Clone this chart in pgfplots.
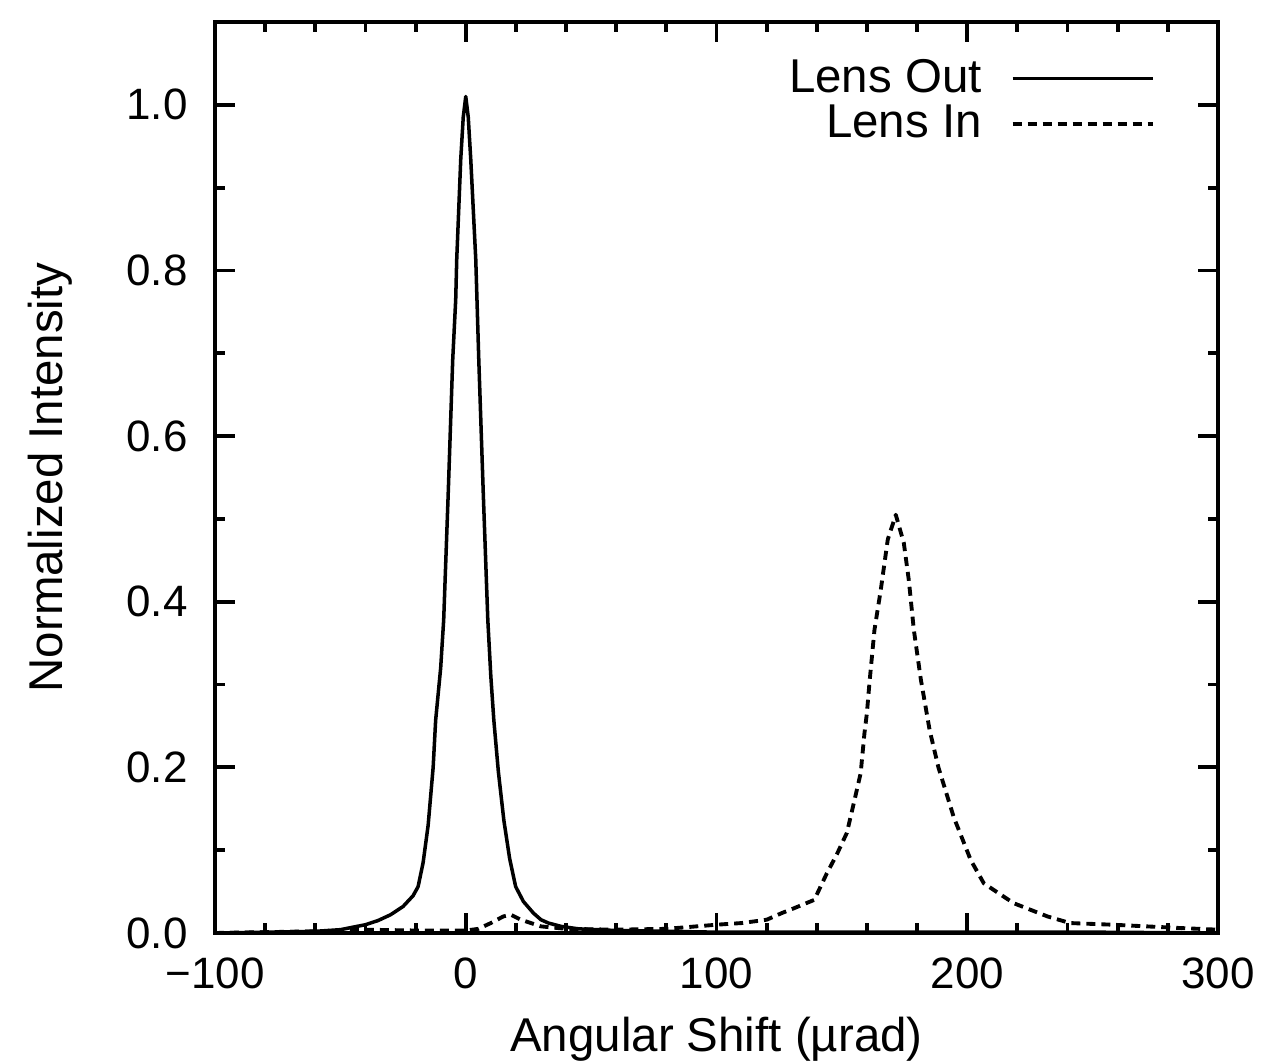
\documentclass[border=0pt]{standalone}
\usepackage{fontspec}
\setmainfont{Liberation Sans}
\usepackage{pgfplots}
\pgfplotsset{compat=1.18}

% Lens Out (solid)
\pgfplotstableread{
x y
-100 0.000
-80 0.001
-60 0.002
-50 0.004
-45 0.007
-40 0.010
-35 0.015
-30 0.022
-25 0.032
-21 0.045
-19 0.056
-17 0.085
-15 0.130
-13 0.200
-12 0.257
-10 0.320
-8.8 0.378
-7 0.530
-5.2 0.692
-4 0.765
-3.6 0.813
-2 0.934
-1 0.985
0 1.010
1 0.985
2 0.934
4 0.813
5.2 0.692
7 0.530
8.8 0.378
10 0.310
11.2 0.257
13 0.195
15.2 0.136
17.5 0.090
19.9 0.056
23 0.038
27 0.024
30 0.016
33 0.012
38 0.008
45 0.005
60 0.003
80 0.002
100 0.001
150 0.001
200 0.001
250 0.001
300 0.000
}\lensout

% Lens In (dashed)
\pgfplotstableread{
x y
-100 0.000
-80 0.001
-60 0.002
-40 0.004
-20 0.003
0 0.003
5 0.005
10 0.012
15 0.020
18 0.022
22 0.016
26 0.012
30 0.008
40 0.005
60 0.004
80 0.005
100 0.010
110 0.012
120 0.016
126 0.024
131 0.030
139 0.040
144 0.072
148 0.095
152 0.121
155 0.160
157.5 0.193
159 0.241
160 0.266
161 0.302
163 0.366
165.5 0.414
168.3 0.475
171.5 0.505
174.7 0.471
176.7 0.426
178.7 0.366
181.5 0.306
185 0.245
188.5 0.200
194.6 0.140
201.4 0.088
206.6 0.060
218.5 0.036
232 0.020
241 0.012
258 0.010
285 0.006
300 0.004
}\lensin

\begin{document}
\begin{tikzpicture}
\path[use as bounding box] (-2.15,-1.30) rectangle (10.47,9.33);
\begin{axis}[
  at={(0,0)}, anchor=south west,
  scale only axis,
  width=10.03cm, height=9.11cm,
  xmin=-100, xmax=300,
  ymin=0, ymax=1.1,
  xtick={-100,0,100,200,300},
  xticklabels={−100,0,100,200,300},
  ytick={0,0.2,0.4,0.6,0.8,1.0},
  yticklabels={0.0,0.2,0.4,0.6,0.8,1.0},
  minor x tick num=4,
  minor y tick num=1,
  tick align=inside,
  major tick length=0.2cm,
  minor tick length=0.1cm,
  axis line style={line width=1.2pt},
  every tick/.style={line width=1.1pt, black},
  tick label style={font=\fontsize{12.5}{15}\selectfont},
  xticklabel style={yshift=-0.12cm},
  yticklabel style={xshift=-0.15cm},
  label style={font=\fontsize{13.5}{16}\selectfont},
  xlabel={Angular Shift (µrad)},
  ylabel={Normalized Intensity},
  xlabel style={at={(axis description cs:0.5,-0.117)}, anchor=center},
  ylabel style={at={(axis description cs:-0.1645,0.5)}, anchor=center},
  legend style={draw=none, fill=none, at={(0.948,0.975)}, anchor=north east,
    font=\fontsize{13.5}{16}\selectfont, row sep=-2pt},
  legend cell align=right,
  legend plot pos=right,
  legend image code/.code={\path (0cm,0cm); \draw[#1] (0.22cm,0cm) -- (1.62cm,0cm);},
]
\addplot[black, line width=1pt, line join=round, mark=none] table[x=x,y=y] {\lensout};
\addlegendentry{Lens Out}
\addplot[black, line width=1.1pt, line join=round, mark=none, dash pattern=on 0.09cm off 0.06cm] table[x=x,y=y] {\lensin};
\addlegendentry{Lens In}
\end{axis}
\end{tikzpicture}
\end{document}
